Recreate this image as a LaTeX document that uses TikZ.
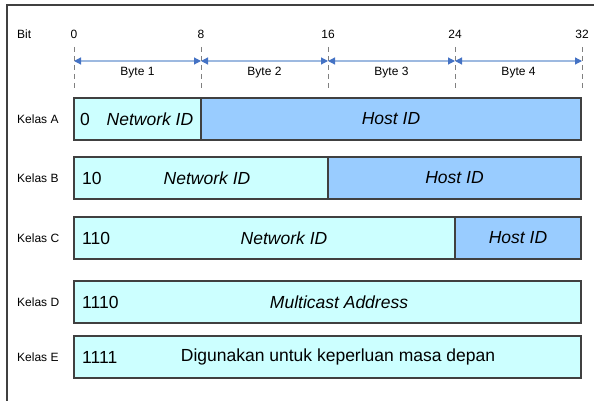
\documentclass[tikz,border=0pt]{standalone}
\usepackage{fontspec}
\setmainfont{Liberation Sans}
\usetikzlibrary{arrows.meta,positioning}
\definecolor{netcyan}{HTML}{CCFFFF}
\definecolor{hostblue}{HTML}{99CCFF}
\definecolor{edgegray}{HTML}{404040}
\definecolor{rulerblue}{HTML}{4472C4}
\definecolor{rulerline}{HTML}{9DB9E0}

\begin{document}
\begin{tikzpicture}[x=1pt,y=-1pt,
        small/.style={font=\fontsize{12}{14}\selectfont,inner sep=0pt},
        big/.style={font=\fontsize{17.5}{20}\selectfont,inner sep=0pt},
        field/.style={draw=edgegray,line width=1.2pt,minimum height=42pt,outer sep=0pt,inner sep=0pt,anchor=north west},
        netfield/.style={field,fill=netcyan},
        hostfield/.style={field,fill=hostblue},
        tick/.style={draw=gray,line width=1pt,dash pattern=on 5pt off 4pt},
        ruler/.style={draw=rulerline,line width=1.2pt,{Triangle[length=7pt,width=7pt,color=rulerblue]}-{Triangle[length=7pt,width=7pt,color=rulerblue]}}]
    \useasboundingbox (0,0) rectangle (594,401);
    \draw[edgegray,line width=1.8pt] (7,440) |- (640,5);
    % bit scale
    \node[small,anchor=west] (bit) at (17,34) {Bit};
    \foreach \b [count=\i from 0] in {0,8,16,24,32} {
        \node[small] (n\i) at (74+15.875*\b,34) {\b};
        \coordinate (top\i) at (74+15.875*\b,47);
        \coordinate (bot\i) at (74+15.875*\b,91);
        \draw[tick] (top\i) -- (bot\i);
    }
    \foreach \i/\j in {0/1,1/2,2/3,3/4}
        \draw[ruler] ([shift={(0,14)}]top\i) -- ([shift={(0,14)}]top\j);
    \node[small] (byteA) at (137.5,73) {Byte 1};
    \node[small] (byteB) at (264.5,73) {Byte 2};
    \node[small] (byteC) at (391.5,73) {Byte 3};
    \node[small] (byteD) at (518.5,73) {Byte 4};
    % Kelas A
    \node[small,anchor=west] (ka) at (17,119) {Kelas A};
    \node[netfield,minimum width=127pt] (aNet) at (74,98) {};
    \node[hostfield,minimum width=380pt,right=0pt of aNet] (aHost) {};
    \node[big,anchor=west] (aPre) at (80,119) {0};
    \node[big] (aNetTxt) at (150,119) {\itshape Network ID};
    \node[big] (aHostTxt) at (aHost) {\itshape Host ID};
    % Kelas B
    \node[small,anchor=west] (kb) at (17,178) {Kelas B};
    \node[netfield,minimum width=254pt] (bNet) at (74,157) {};
    \node[hostfield,minimum width=253pt,right=0pt of bNet] (bHost) {};
    \node[big,anchor=west] (bPre) at (82,178) {10};
    \node[big] (bNetTxt) at (207,178) {\itshape Network ID};
    \node[big] (bHostTxt) at (bHost) {\itshape Host ID};
    % Kelas C
    \node[small,anchor=west] (kc) at (17,238) {Kelas C};
    \node[netfield,minimum width=381pt] (cNet) at (74,217) {};
    \node[hostfield,minimum width=126pt,right=0pt of cNet] (cHost) {};
    \node[big,anchor=west] (cPre) at (82,238) {110};
    \node[big] (cNetTxt) at (284,238) {\itshape Network ID};
    \node[big] (cHostTxt) at (cHost) {\itshape Host ID};
    % Kelas D
    \node[small,anchor=west] (kd) at (17,302) {Kelas D};
    \node[netfield,minimum width=507pt] (dNet) at (74,281) {};
    \node[big,anchor=west] (dPre) at (82,302) {1110};
    \node[big] (dTxt) at (339,302) {\itshape Multicast Address};
    % Kelas E
    \node[small,anchor=west] (ke) at (17,357) {Kelas E};
    \node[netfield,minimum width=507pt] (eNet) at (74,336) {};
    \node[big,anchor=west] (ePre) at (82,357) {1111};
    \node[big] (eTxt) at (338,357) {Digunakan untuk keperluan masa depan};
\end{tikzpicture}
\end{document}
